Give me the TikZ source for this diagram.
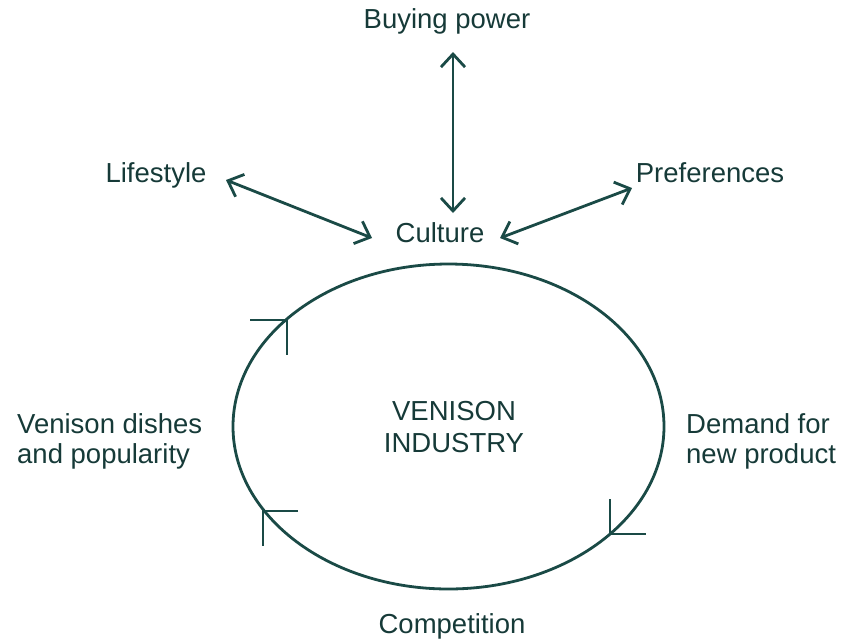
\documentclass[tikz,border=0pt]{standalone}
\usepackage{fontspec}
\setmainfont{Liberation Sans}
\usetikzlibrary{arrows.meta}
\definecolor{ink}{HTML}{1A4A46}
\definecolor{txt}{HTML}{163A38}
\tikzset{
  lbl/.style={inner sep=0pt, anchor=base, text=txt, font=\fontsize{27.5}{30}\selectfont},
  lbll/.style={lbl, anchor=base west},
  dbl/.style={draw=ink, line width=2.8pt, {Straight Barb[length=13pt,width=24pt]}-{Straight Barb[length=13pt,width=24pt]}},
  ring/.style={draw=ink, line width=2.8pt},
  tick/.style={draw=ink, line width=2.8pt}
}
\begin{document}
\begin{tikzpicture}[x=1pt,y=-1pt]
\useasboundingbox (0,0) rectangle (841,641);
\node[lbl] (bp) at (447,28) {Buying power};
\node[lbl] (ls) at (156,182) {Lifestyle};
\node[lbl] (pr) at (710,182) {Preferences};
\node[lbl] (cu) at (440,242) {Culture};
\node[lbl] (v1) at (454,420) {VENISON};
\node[lbl] (v2) at (454,452) {INDUSTRY};
\node[lbll] (d1) at (17,433) {Venison dishes};
\node[lbll] (d2) at (17,463) {and popularity};
\node[lbll] (n1) at (686,433) {Demand for};
\node[lbll] (n2) at (686,463) {new product};
\node[lbl] (co) at (452,633) {Competition};
\coordinate (bpS) at (453,52);
\coordinate (cuN) at (453,213);
\coordinate (lsE) at (226,180);
\coordinate (cuW) at (372,238);
\coordinate (prW) at (632,188);
\coordinate (cuE) at (500,238);
\draw[dbl] (bpS) -- (cuN);
\draw[dbl] (lsE) -- (cuW);
\draw[dbl] (prW) -- (cuE);
\draw[ring] (448.5,426.5) ellipse [x radius=215.5, y radius=162.5];
\draw[tick] (250,320) -- (287,320) -- (287,355);
\draw[tick] (298,511) -- (263,511) -- (263,546);
\draw[tick] (610,499) -- (610,534) -- (646,534);
\end{tikzpicture}
\end{document}
